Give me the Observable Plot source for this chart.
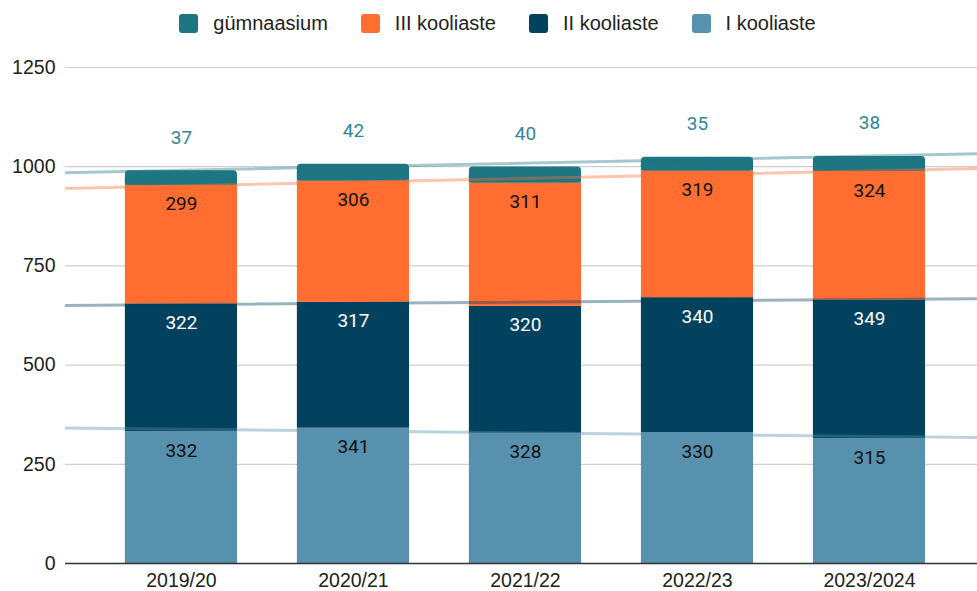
<!DOCTYPE html>
<html><head><meta charset="utf-8">
<script src="https://cdn.jsdelivr.net/npm/d3@7"></script>
<script src="https://cdn.jsdelivr.net/npm/@observablehq/plot@0.6"></script>
<style>
body{margin:0;background:#fff;font-family:Roboto,sans-serif;}
#wrap{position:relative;width:977px;height:591px;overflow:hidden;}
#legend{position:absolute;top:12px;left:0;width:977px;display:flex;justify-content:center;gap:33px;font-family:"Liberation Sans",Arial,sans-serif;font-size:20px;line-height:22px;color:#222;padding-left:18px;box-sizing:border-box;}
#legend .it{display:flex;align-items:center;gap:15px;}
#legend .sw{width:19px;height:19px;border-radius:3px;}
#chart{position:absolute;top:0;left:0;}
</style></head><body>
<div id="wrap"><div id="legend"></div><div id="chart"></div></div>
<script>
const years = ["2019/20","2020/21","2021/22","2022/23","2023/2024"];
const seriesNames = ["I kooliaste","II kooliaste","III kooliaste","gümnaasium"];
const kooliaste1 = [332,341,328,330,315];
const kooliaste2 = [322,317,320,340,349];
const kooliaste3 = [299,306,311,319,324];
const gymnaasium = [37,42,40,35,38];
const colors = ["#5891ae","#02425e","#ff6d31","#1e7683"];
const labelColors = ["#111","#fff","#111","#2f8798"];
const yTicks = [0,250,500,750,1000,1250];

const values = [kooliaste1,kooliaste2,kooliaste3,gymnaasium];
const segs = [];
const cum = values.map(()=>[]);
years.forEach((yr,i)=>{
  let base=0;
  values.forEach((arr,s)=>{
    segs.push({i, s, series:seriesNames[s], v:arr[i], y1:base, y2:base+arr[i]});
    base+=arr[i];
    cum[s].push(base);
  });
});
const xDom=[-0.674,4.628];
const half=0.326;
// linear trend lines of the cumulative stack
const trends=[];
cum.forEach((c,s)=>{
  const xs=c.map((_,i)=>i);
  const mx=d3.mean(xs), my=d3.mean(c);
  const slope=d3.sum(xs,(x,k)=>(x-mx)*(c[k]-my))/d3.sum(xs,x=>(x-mx)**2);
  const icpt=my-slope*mx;
  [xDom[0]-0.2,xDom[1]+0.2].forEach(x=>trends.push({s,x,y:icpt+slope*x}));
});
const topSegs=segs.filter(d=>d.s===3);
const lowerTop=topSegs.map(d=>({...d,y2:(d.y1+d.y2)/2}));

const lg=d3.select("#legend");
[3,2,1,0].forEach(s=>{
  const it=lg.append("div").attr("class","it");
  it.append("div").attr("class","sw").style("background",colors[s]);
  it.append("span").text(seriesNames[s]);
});

const axisFont="Liberation Sans, Arial, sans-serif";
const plot=Plot.plot({
  width:977,height:591,
  marginLeft:65,marginRight:0,marginTop:67,marginBottom:28,
  style:{fontFamily:"Roboto, sans-serif",background:"transparent"},
  x:{type:"linear",domain:xDom,axis:null},
  y:{domain:[0,1250],axis:null},
  marks:[
    Plot.ruleY(yTicks.filter(t=>t>0),{stroke:"#cfcfcf",strokeWidth:1.2}),
    Plot.text(yTicks,{x:xDom[0],y:d=>d,text:d=>String(d),textAnchor:"end",dx:-10,fontSize:19.5,fontFamily:axisFont,fill:"#222"}),
    Plot.rectY(segs.filter(d=>d.s<3),{x1:d=>d.i-half,x2:d=>d.i+half,y1:"y1",y2:"y2",fill:d=>colors[d.s]}),
    Plot.rectY(topSegs,{x1:d=>d.i-half,x2:d=>d.i+half,y1:"y1",y2:"y2",fill:colors[3],rx:4}),
    Plot.rectY(lowerTop,{x1:d=>d.i-half,x2:d=>d.i+half,y1:"y1",y2:"y2",fill:colors[3]}),
    Plot.ruleY([0],{stroke:"#333",strokeWidth:1.3}),
    Plot.line(trends,{x:"x",y:"y",z:"s",stroke:d=>colors[d.s],strokeOpacity:0.4,strokeWidth:3,clip:true}),
    Plot.text(segs.filter(d=>d.s<3),{x:"i",y:"y2",text:d=>String(d.v),dy:19,fontSize:19,fill:d=>labelColors[d.s]}),
    Plot.text(topSegs,{x:"i",y:"y2",text:d=>String(d.v),dy:-33,fontSize:19,fill:labelColors[3]}),
    Plot.text(years,{x:(d,i)=>i,y:0,text:d=>d,dy:17,fontSize:19.5,fontFamily:axisFont,fill:"#222"})
  ]
});
document.getElementById("chart").appendChild(plot);
</script></body></html>
